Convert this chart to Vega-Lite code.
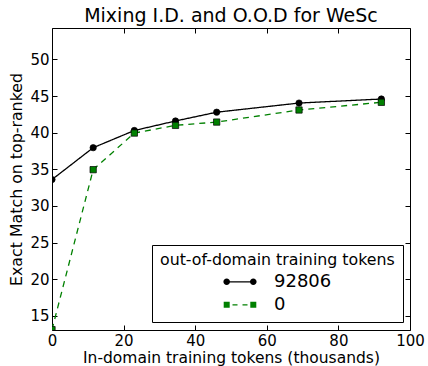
{
  "$schema": "https://vega.github.io/schema/vega-lite/v6.json",
  "width": 358,
  "height": 302,
  "autosize": {"type": "none"},
  "padding": {"left": 52, "top": 28, "right": 18, "bottom": 36},
  "background": "white",
  "title": {"text": "Mixing I.D. and O.O.D for WeSc", "fontSize": 19, "font": "DejaVu Sans", "fontWeight": "normal", "color": "#000000", "offset": 2, "anchor": "middle"},
  "data": {
    "values": [
      {"x": 0, "y": 33.6, "series": "92806"},
      {"x": 11.5, "y": 37.95, "series": "92806"},
      {"x": 23, "y": 40.3, "series": "92806"},
      {"x": 34.5, "y": 41.6, "series": "92806"},
      {"x": 46, "y": 42.8, "series": "92806"},
      {"x": 69, "y": 44.05, "series": "92806"},
      {"x": 92, "y": 44.6, "series": "92806"},
      {"x": 0, "y": 13.1, "series": "0"},
      {"x": 11.5, "y": 34.95, "series": "0"},
      {"x": 23, "y": 39.95, "series": "0"},
      {"x": 34.5, "y": 41.0, "series": "0"},
      {"x": 46, "y": 41.45, "series": "0"},
      {"x": 69, "y": 43.1, "series": "0"},
      {"x": 92, "y": 44.15, "series": "0"}
    ]
  },
  "layer": [
    {
      "mark": {"type": "line", "strokeWidth": 1.3, "clip": true},
      "encoding": {
        "x": {"field": "x", "type": "quantitative", "scale": {"domain": [0, 100], "nice": false, "zero": false},
              "axis": {"orient": "bottom", "values": [0, 20, 40, 60, 80, 100], "title": "In-domain training tokens (thousands)", "titlePadding": 2.5, "titleFontSize": 15.5}},
        "y": {"field": "y", "type": "quantitative", "scale": {"domain": [13.05, 54.3], "nice": false, "zero": false},
              "axis": {"orient": "left", "values": [15, 20, 25, 30, 35, 40, 45, 50], "title": "Exact Match on top-ranked", "titlePadding": 5}},
        "color": {"field": "series", "type": "nominal", "scale": {"domain": ["92806", "0"], "range": ["#000000", "#008000"]}, "legend": null},
        "strokeDash": {"field": "series", "type": "nominal", "scale": {"domain": ["92806", "0"], "range": [[1, 0], [6, 5]]}, "legend": null}
      }
    },
    {
      "mark": {"type": "point", "filled": true, "opacity": 1, "stroke": "#000000", "strokeWidth": 0.7, "size": 40, "clip": true},
      "encoding": {
        "x": {"field": "x", "type": "quantitative", "scale": {"domain": [0, 100], "nice": false, "zero": false},
              "axis": {"orient": "top", "values": [0, 20, 40, 60, 80, 100], "labels": false, "title": null}},
        "y": {"field": "y", "type": "quantitative", "scale": {"domain": [13.05, 54.3], "nice": false, "zero": false},
              "axis": {"orient": "right", "values": [15, 20, 25, 30, 35, 40, 45, 50], "labels": false, "title": null}},
        "color": {"field": "series", "type": "nominal", "scale": {"domain": ["92806", "0"], "range": ["#000000", "#008000"]}, "legend": null},
        "shape": {"field": "series", "type": "nominal", "scale": {"domain": ["92806", "0"], "range": ["circle", "square"]}, "legend": null}
      }
    },
    {
      "transform": [{"filter": "false"}],
      "mark": {"type": "point", "filled": true, "opacity": 1},
      "encoding": {
        "color": {"field": "series", "type": "nominal", "scale": {"domain": ["92806", "0"], "range": ["#000000", "#008000"]},
                  "legend": {"title": "out-of-domain training tokens", "orient": "none", "legendX": 100, "legendY": 217}},
        "shape": {"field": "series", "type": "nominal",
                  "scale": {"domain": ["92806", "0"], "range": [
                    "M-1.33,-0.06H1.33V0.06H-1.33Z M-1.0,0A0.33,0.33,0,1,1,-1.66,0A0.33,0.33,0,1,1,-1.0,0Z M1.66,0A0.33,0.33,0,1,1,1.0,0A0.33,0.33,0,1,1,1.66,0Z",
                    "M-1.63,-0.3H-1.03V0.3H-1.63Z M1.03,-0.3H1.63V0.3H1.03Z M-0.75,-0.06H-0.25V0.06H-0.75Z M0.25,-0.06H0.75V0.06H0.25Z"
                  ]},
                  "legend": {"title": "out-of-domain training tokens", "orient": "none", "legendX": 100, "legendY": 217}}
      }
    }
  ],
  "resolve": {
    "scale": {"color": "independent", "shape": "independent", "strokeDash": "independent"},
    "axis": {"x": "independent", "y": "independent"}
  },
  "config": {
    "font": "DejaVu Sans",
    "view": {"stroke": "#000000", "strokeWidth": 1},
    "axis": {
      "labelFont": "DejaVu Sans", "labelFontSize": 15, "labelColor": "#000000",
      "titleFont": "DejaVu Sans", "titleFontSize": 15.8, "titleFontWeight": "normal", "titleColor": "#000000",
      "tickColor": "#000000", "tickSize": -5, "tickWidth": 1, "domain": false, "grid": false,
      "labelPadding": 8, "labelFlush": false, "labelOverlap": false
    },
    "legend": {
      "titleFont": "DejaVu Sans", "titleFontSize": 15.8, "titleFontWeight": "normal", "titleColor": "#000000", "titleLimit": 400,
      "labelFont": "DejaVu Sans", "labelFontSize": 18, "labelColor": "#000000",
      "strokeColor": "#000000", "fillColor": "#ffffff", "padding": 8, "cornerRadius": 0,
      "titlePadding": 3, "rowPadding": 4, "symbolSize": 400, "symbolOffset": 70, "labelOffset": 24,
      "symbolStrokeWidth": 0
    }
  }
}
